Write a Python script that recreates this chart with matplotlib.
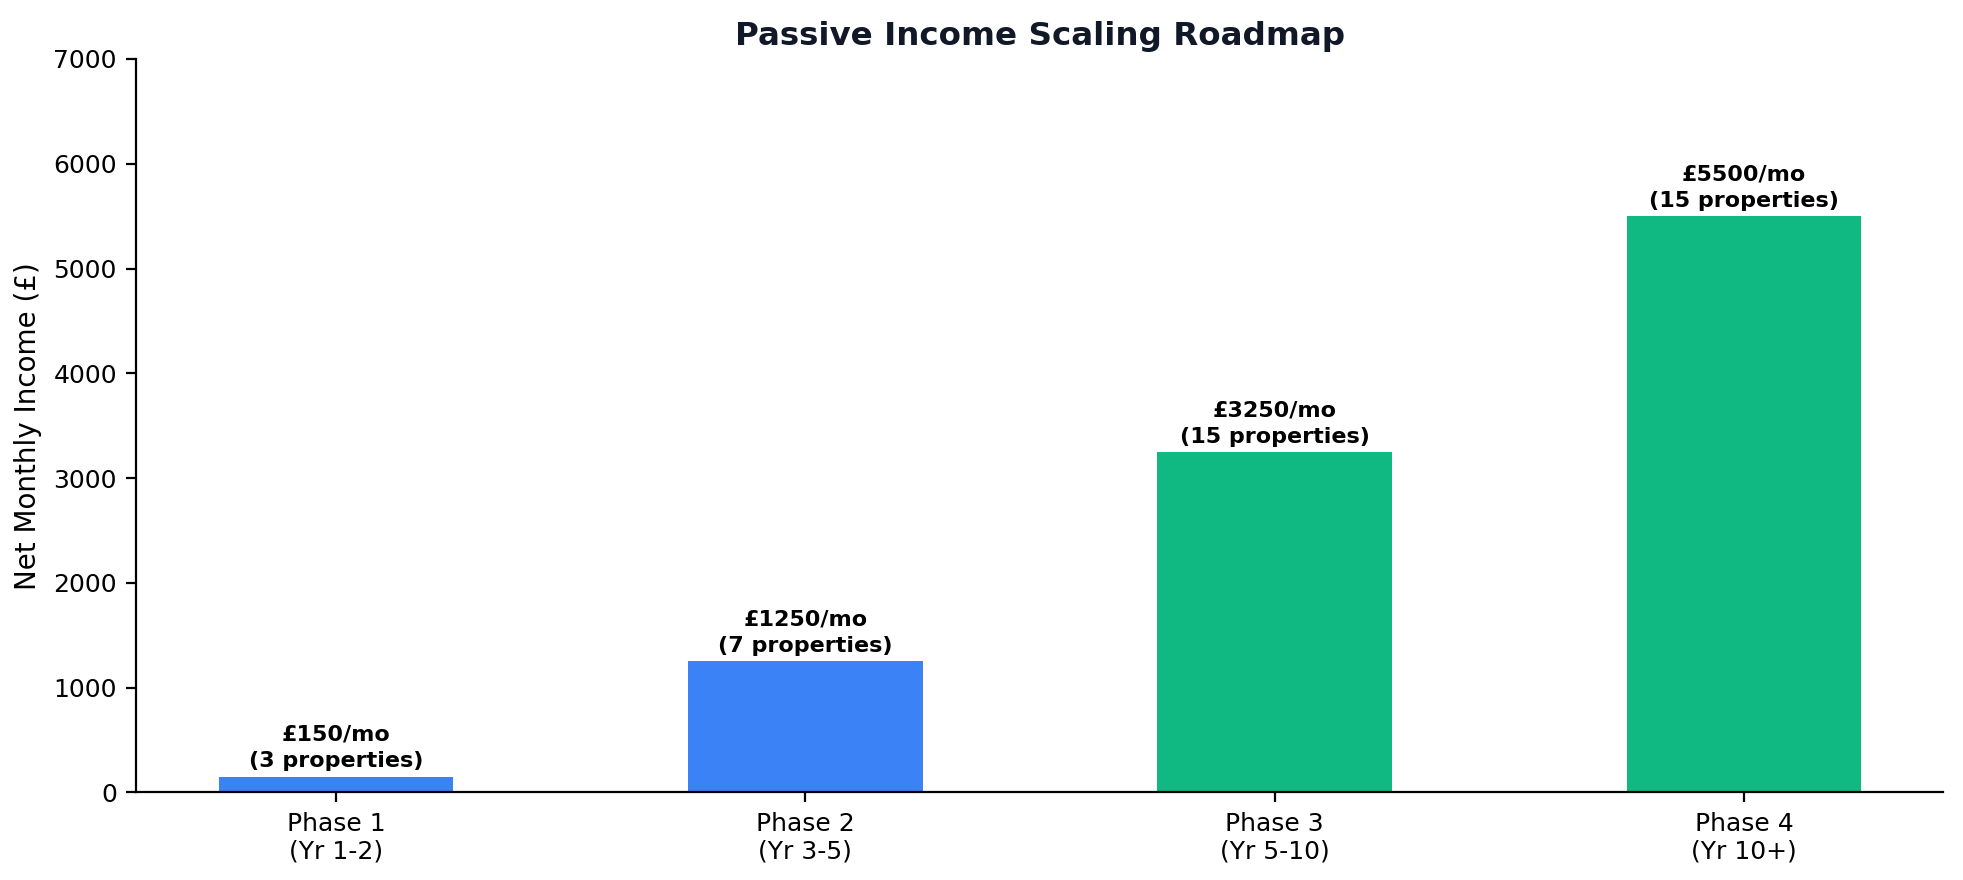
import matplotlib.pyplot as plt

phases = ['Phase 1\n(Yr 1-2)', 'Phase 2\n(Yr 3-5)', 'Phase 3\n(Yr 5-10)', 'Phase 4\n(Yr 10+)']
income = [150, 1250, 3250, 5500]
properties = [3, 7, 15, 15]
colors = ['#3b82f6', '#3b82f6', '#10b981', '#10b981']

fig, ax = plt.subplots(figsize=(9.815, 4.4), dpi=200)
fig.subplots_adjust(left=0.0695, right=0.990, top=0.933, bottom=0.0996)

bars = ax.bar(range(len(phases)), income, width=0.5, color=colors)
for bar, val, n in zip(bars, income, properties):
    ax.text(bar.get_x() + bar.get_width() / 2, val + 50,
            f'£{val}/mo\n({n} properties)',
            ha='center', va='bottom', fontsize=8, fontweight='bold',
            linespacing=1.4)

ax.set_xticks(range(len(phases)))
ax.set_xticklabels(phases, fontsize=9)
ax.tick_params(axis='y', labelsize=9)
ax.set_ylim(0, 7000)
ax.set_ylabel('Net Monthly Income (£)', fontsize=10)
ax.set_title('Passive Income Scaling Roadmap', fontsize=11.7, fontweight='bold',
             color='#111827', pad=5)
ax.spines['top'].set_visible(False)
ax.spines['right'].set_visible(False)

plt.savefig('out.png')
